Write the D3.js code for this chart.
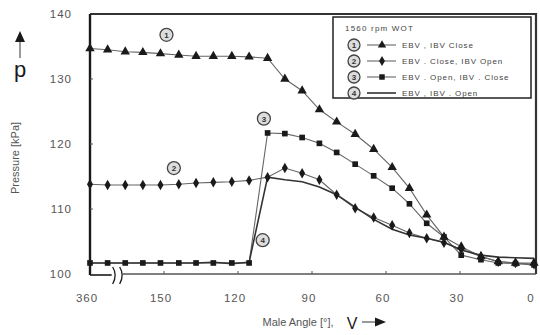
<!DOCTYPE html>
<html>
<head>
<meta charset="utf-8">
<script src="https://cdn.jsdelivr.net/npm/d3@7"></script>
<style>
  body { margin: 0; background: #fff; }
  text { font-family: "Liberation Sans", Arial, sans-serif; }
</style>
</head>
<body>
<div id="chart"></div>
<script>
// crank angle samples (deg), axis is broken between 360 and 150
var angles = [360, 310, 260, 210, 160, 144, 137, 130, 122.5, 115.5, 108, 101, 94, 87, 80, 72.5, 65, 57.5, 50.5, 43.5, 36.5, 29.5, 21.5, 14.5, 7.5, 0];

// (1) EBV, IBV Close
var closeClose = [134.7, 134.5, 134.2, 134.1, 133.9, 133.7, 133.5, 133.5, 133.5, 133.4, 133.2, 130.0, 128.2, 125.3, 123.4, 121.5, 119.2, 116.4, 113.2, 109.1, 105.7, 104.2, 102.7, 101.9, 101.7, 101.7];
// (2) EBV Close, IBV Open
var closeOpen = [113.8, 113.7, 113.7, 113.7, 113.7, 113.8, 114.0, 114.1, 114.2, 114.4, 114.9, 116.3, 115.5, 114.5, 112.2, 110.1, 108.7, 107.5, 106.3, 105.5, 104.8, 103.8, 102.7, 101.9, 101.7, 101.5];
// (3) EBV Open, IBV Close
var openClose = [101.7, 101.7, 101.7, 101.7, 101.7, 101.7, 101.7, 101.7, 101.7, 101.7, 121.7, 121.6, 121.0, 120.1, 118.7, 116.9, 115.1, 113.2, 110.8, 107.8, 105.7, 102.9, 102.2, 101.7, 101.6, 101.4];
// (4) EBV, IBV Open
var openOpen = [101.7, 101.7, 101.7, 101.7, 101.7, 101.7, 101.7, 101.8, 101.6, 101.8, 114.9, 114.5, 114.2, 113.4, 112.2, 110.3, 108.4, 106.9, 106.0, 105.5, 104.9, 103.7, 102.9, 102.6, 102.5, 102.4];

var xTicks = [360, 150, 120, 90, 60, 30, 0];
var yTicks = [100, 110, 120, 130, 140];

var legendTitle = "1560 rpm  WOT";
var legendLabels = ["EBV , IBV   Close", "EBV . Close, IBV   Open", "EBV . Open, IBV . Close", "EBV , IBV . Open"];
var legendNums = ["1", "2", "3", "4"];
var symbols = [d3.symbolTriangle, d3.symbolDiamond, d3.symbolSquare, null];

// circled number callouts: [angle, pressure]
var callouts = [[149, 136.8], [146, 116.3], [109.5, 123.9], [110, 105.2]];

var width = 540, height = 335;

var svg = d3.select("#chart").append("svg")
    .attr("width", width)
    .attr("height", height);

// piecewise scale gives the axis break between 360 and 150
var x = d3.scaleLinear().domain([360, 150, 0]).range([90, 164, 534]);
var y = d3.scaleLinear().domain([100, 140]).range([274, 14]);

var ink = "#1a1a1a", grey = "#555";

// frame: top and right
svg.append("path")
    .attr("d", "M" + x(360) + "," + y(140) + "H" + (x(0) + 2) + "V" + y(100))
    .style("fill", "none").style("stroke", "#333").style("stroke-width", 2.2);

// left axis
svg.append("line")
    .attr("x1", x(360)).attr("x2", x(360))
    .attr("y1", y(140)).attr("y2", y(100) + 1)
    .style("stroke", ink).style("stroke-width", 2.4);

// bottom axis with break
var xb = x(290);
svg.append("line")
    .attr("x1", x(360)).attr("x2", xb - 3)
    .attr("y1", y(100) + 1).attr("y2", y(100) + 1)
    .style("stroke", ink).style("stroke-width", 1.6);
svg.append("line")
    .attr("x1", xb + 8).attr("x2", x(0) + 2)
    .attr("y1", y(100)).attr("y2", y(100))
    .style("stroke", grey).style("stroke-width", 1.5);
[xb - 2, xb + 5].forEach(function (bx) {
    svg.append("path")
        .attr("d", "M" + bx + "," + (y(100) - 7) + "q5,8 0,17")
        .style("fill", "none").style("stroke", ink).style("stroke-width", 1.3);
});

// ticks
svg.selectAll(".xt").data(xTicks.slice(1, 6)).enter().append("line")
    .attr("x1", function (d) { return x(d); }).attr("x2", function (d) { return x(d); })
    .attr("y1", y(100)).attr("y2", y(100) - 3)
    .style("stroke", grey);
svg.selectAll(".yt").data([110, 120, 130]).enter().append("line")
    .attr("x1", x(360)).attr("x2", x(360) + 3)
    .attr("y1", function (d) { return y(d); }).attr("y2", function (d) { return y(d); })
    .style("stroke", grey);

// tick labels
svg.selectAll(".xl").data(xTicks).enter().append("text")
    .attr("x", function (d) { return x(d) - 3; })
    .attr("y", 302)
    .attr("text-anchor", "middle")
    .style("font-size", "11.5px").style("letter-spacing", "1px").style("fill", "#555")
    .text(function (d) { return d; });
svg.selectAll(".yl").data(yTicks).enter().append("text")
    .attr("x", 72)
    .attr("y", function (d) { return y(d) + 4; })
    .attr("text-anchor", "end")
    .style("font-size", "11.5px").style("letter-spacing", "1px").style("fill", "#555")
    .text(function (d) { return d; });

// axis titles
svg.append("text")
    .attr("transform", "translate(19,158) rotate(-90)")
    .attr("text-anchor", "middle")
    .style("font-size", "11px").style("fill", "#555")
    .text("Pressure [kPa]");
svg.append("text")
    .attr("x", 20).attr("y", 77)
    .attr("text-anchor", "middle")
    .style("font-size", "22px").style("fill", ink)
    .text("p");
svg.append("line")
    .attr("x1", 20).attr("x2", 20).attr("y1", 58).attr("y2", 40)
    .style("stroke", grey).style("stroke-width", 1.2);
svg.append("path")
    .attr("d", "M20,31L15,42H25Z").style("fill", ink);

svg.append("text")
    .attr("x", 298).attr("y", 326)
    .attr("text-anchor", "middle")
    .style("font-size", "11px").style("fill", "#555")
    .text("Male  Angle [°],");
svg.append("text")
    .attr("x", 352).attr("y", 329)
    .attr("text-anchor", "middle")
    .style("font-size", "16px").style("fill", ink)
    .text("V");
svg.append("line")
    .attr("x1", 362).attr("x2", 376).attr("y1", 322).attr("y2", 322)
    .style("stroke", grey).style("stroke-width", 1.2);
svg.append("path")
    .attr("d", "M386,322L375,317.5V326.5Z").style("fill", ink);

// series
var series = [closeClose, closeOpen, openClose, openOpen];
var line = d3.line()
    .x(function (d, i) { return x(angles[i]); })
    .y(function (d) { return y(d); });

series.forEach(function (s, k) {
    svg.append("path")
        .attr("d", line(s))
        .style("fill", "none")
        .style("stroke", k == 3 ? "#333" : "#666")
        .style("stroke-width", k == 3 ? 1.6 : 1.1);
});

series.forEach(function (s, k) {
    if (!symbols[k]) return;
    svg.selectAll(".m" + k).data(s).enter().append("path")
        .attr("transform", function (d, i) { return "translate(" + x(angles[i]) + "," + y(d) + ")"; })
        .attr("d", d3.symbol().type(symbols[k]).size(k == 0 ? 38 : 32))
        .style("fill", ink);
});

// circled numbers
function circled(g, cx, cy, n, r) {
    g.append("circle").attr("cx", cx).attr("cy", cy).attr("r", r)
        .style("fill", "#ddd").style("stroke", "#444").style("stroke-width", 1.3);
    g.append("text").attr("x", cx).attr("y", cy + 3)
        .attr("text-anchor", "middle")
        .style("font-size", "8px").style("font-weight", "bold").style("fill", "#333")
        .text(n);
}
callouts.forEach(function (c, i) {
    circled(svg, x(c[0]), y(c[1]), legendNums[i], 6.5);
});

// legend
var lg = svg.append("g");
lg.append("rect")
    .attr("x", 333).attr("y", 17).attr("width", 198).attr("height", 81)
    .style("fill", "#fff").style("stroke", "#222").style("stroke-width", 1.5);
lg.append("text")
    .attr("x", 345).attr("y", 31)
    .style("font-size", "8px").style("letter-spacing", "1.2px").style("fill", "#444")
    .text(legendTitle);
legendLabels.forEach(function (lab, i) {
    var ly = 45 + i * 16;
    circled(lg, 354, ly, legendNums[i], 6);
    lg.append("line")
        .attr("x1", 367).attr("x2", 396).attr("y1", ly).attr("y2", ly)
        .style("stroke", i == 3 ? "#333" : "#666").style("stroke-width", i == 3 ? 1.6 : 1.1);
    if (symbols[i]) {
        lg.append("path")
            .attr("transform", "translate(382," + ly + ")")
            .attr("d", d3.symbol().type(symbols[i]).size(30))
            .style("fill", ink);
    }
    lg.append("text")
        .attr("x", 402).attr("y", ly + 3)
        .style("font-size", "8px").style("letter-spacing", "0.9px").style("fill", "#444")
        .text(lab);
});
</script>
</body>
</html>
